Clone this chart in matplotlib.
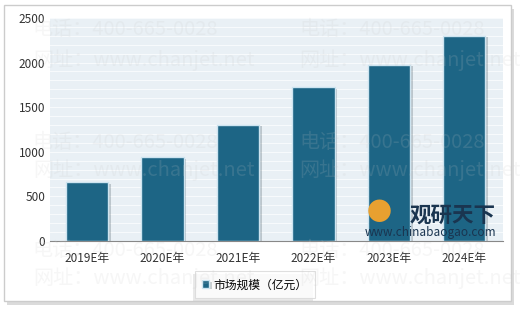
import matplotlib
matplotlib.use('Agg')
import matplotlib.pyplot as plt
import matplotlib.patheffects as pe
from matplotlib.patches import Rectangle
import numpy as np

plt.rcParams['font.family'] = ['Noto Sans CJK SC', 'DejaVu Sans']

# donnees
annees = ['2019E年', '2020E年', '2021E年', '2022E年', '2023E年', '2024E年']
valeurs = [660, 938, 1300, 1722, 1975, 2302]
serie = '市场规模（亿元）'
yticks = [0, 500, 1000, 1500, 2000, 2500]

fig = plt.figure(figsize=(5.2, 3.09), dpi=100)

# cadre exterieur avec ombre
cadre = Rectangle((0.008, 0.025), 0.975, 0.96, transform=fig.transFigure,
                  facecolor='white', edgecolor='#cccccc', linewidth=1.0, zorder=-5,
                  path_effects=[pe.SimplePatchShadow(offset=(2, -3), alpha=0.2), pe.Normal()])
fig.patches.append(cadre)

ax = fig.add_axes([0.096, 0.22, 0.871, 0.722])
ax.set_facecolor('#e9f0f5')

x = np.arange(len(annees))
barres = ax.bar(x, valeurs, width=0.56, color='#1d6585', edgecolor='#cde4f0',
                linewidth=1.0, label=serie, zorder=3)
for b in barres:
    b.set_path_effects([pe.SimplePatchShadow(offset=(2, -1), alpha=0.2), pe.Normal()])

# lignes de fond tous les 100
for v in range(100, 2600, 100):
    ax.axhline(v, color='#f7fafc', linewidth=0.8, zorder=1)

ax.set_ylim(0, 2500)
ax.set_xlim(-0.49, 5.51)
ax.set_yticks(yticks)
ax.set_xticks(x)
ax.set_xticklabels(annees)
ax.tick_params(axis='both', length=0, labelsize=8.5, colors='#333333')
ax.tick_params(axis='x', pad=8)
for s in ['top', 'right', 'left']:
    ax.spines[s].set_visible(False)
ax.spines['bottom'].set_color('#888888')
ax.spines['bottom'].set_linewidth(0.8)

# filigranes
wm = dict(transform=fig.transFigure, fontsize=14.5, color='#c8c8c8', alpha=0.16, zorder=10, va='center')
for fx in [0.063, 0.575]:
    for fy in [0.903, 0.54, 0.19]:
        fig.text(fx, fy, '电话：400-665-0028', **wm)
    for fy in [0.806, 0.45, 0.10]:
        fig.text(fx, fy, '网址：www.chanjet.net', **wm)

# logo
fig.text(0.787, 0.304, '观研天下', fontsize=15.5, fontweight='bold', color='#1a3550', zorder=11, va='center')
fig.text(0.702, 0.249, 'www.chinabaogao.com', fontsize=8.5, color='#1a3550', zorder=11, va='center')
fig.text(0.705, 0.31, '●', fontsize=18, color='#e8a030', zorder=11, va='center')

leg = ax.legend(loc='center', bbox_to_anchor=(0.49, 0.078), bbox_transform=fig.transFigure,
                fontsize=8.5, frameon=True, handlelength=0.6, handleheight=0.6,
                handletextpad=0.4, borderpad=0.6, fancybox=False, shadow=False)
leg.get_frame().set_edgecolor('#d8d8d8')
leg.get_frame().set_linewidth(0.8)
leg.get_frame().set_path_effects([pe.SimplePatchShadow(offset=(-1, -2), alpha=0.12), pe.Normal()])

fig.savefig('out.png', dpi=100)
